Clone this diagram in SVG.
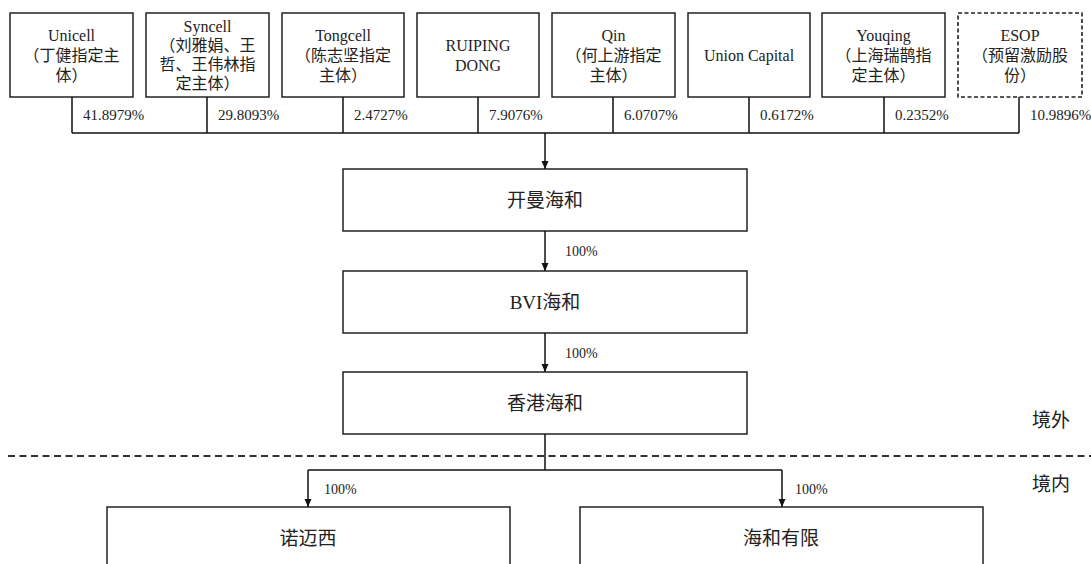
<svg xmlns="http://www.w3.org/2000/svg" width="1091" height="564" viewBox="0 0 1091 564">
<style>
.box{fill:#fff;stroke:#222;stroke-width:1.5}
.dbox{fill:#fff;stroke:#222;stroke-width:1.6;stroke-dasharray:4 2.5}
.ln{fill:none;stroke:#111;stroke-width:1.5}
.t{font-family:"Liberation Serif","Noto Sans CJK SC",serif;fill:#222;text-anchor:middle;dominant-baseline:central}
.s{font-size:16px}
.m{font-size:19px}
.p{font-family:"Liberation Serif","Noto Sans CJK SC",serif;fill:#222;font-size:15px}
.q{font-family:"Liberation Serif","Noto Sans CJK SC",serif;fill:#222;font-size:14px}
</style>
<defs>
<marker id="ah" viewBox="0 0 8 8" refX="8" refY="4" markerWidth="8" markerHeight="8" markerUnits="userSpaceOnUse" orient="auto">
<path d="M0,0.5 L8,4 L0,7.5 Z" fill="#111"/>
</marker>
</defs>
<rect x="0" y="0" width="1091" height="564" fill="#fff"/>

<g id="unicell"><rect class="box" x="10" y="13" width="123" height="84"/>
<text class="t s" x="71.5" y="35">Unicell</text><text class="t s" x="71.5" y="55">（丁健指定主</text><text class="t s" x="71.5" y="75">体）</text></g>
<g id="syncell"><rect class="box" x="146" y="13" width="123" height="84"/>
<text class="t s" x="207.5" y="26">Syncell</text><text class="t s" x="207.5" y="45">（刘雅娟、王</text><text class="t s" x="207.5" y="64">哲、王伟林指</text><text class="t s" x="207.5" y="83">定主体）</text></g>
<g id="tongcell"><rect class="box" x="282" y="13" width="122" height="84"/>
<text class="t s" x="343" y="35">Tongcell</text><text class="t s" x="343" y="55">（陈志坚指定</text><text class="t s" x="343" y="75">主体）</text></g>
<g id="ruiping"><rect class="box" x="417" y="13" width="122" height="84"/>
<text class="t s" x="478" y="45">RUIPING</text><text class="t s" x="478" y="65">DONG</text></g>
<g id="qin"><rect class="box" x="552" y="13" width="123" height="84"/>
<text class="t s" x="613.5" y="35">Qin</text><text class="t s" x="613.5" y="55">（何上游指定</text><text class="t s" x="613.5" y="75">主体）</text></g>
<g id="union"><rect class="box" x="688" y="13" width="122" height="84"/>
<text class="t s" x="749" y="55">Union Capital</text></g>
<g id="youqing"><rect class="box" x="822" y="13" width="123" height="84"/>
<text class="t s" x="883.5" y="35">Youqing</text><text class="t s" x="883.5" y="55">（上海瑞鹊指</text><text class="t s" x="883.5" y="75">定主体）</text></g>
<g id="esop"><rect class="dbox" x="958" y="13" width="124" height="84"/>
<text class="t s" x="1020" y="35">ESOP</text><text class="t s" x="1020" y="55">（预留激励股</text><text class="t s" x="1020" y="75">份）</text></g>

<g id="kaiman"><rect class="box" x="343" y="169" width="404" height="62"/><text class="t m" x="545" y="200">开曼海和</text></g>
<g id="bvi"><rect class="box" x="343" y="271" width="404" height="62"/><text class="t m" x="545" y="302">BVI海和</text></g>
<g id="hk"><rect class="box" x="343" y="372" width="404" height="62"/><text class="t m" x="545" y="403">香港海和</text></g>
<g id="nuomaixi"><rect class="box" x="107" y="507" width="403" height="70"/><text class="t m" x="308" y="538">诺迈西</text></g>
<g id="haihe"><rect class="box" x="580" y="507" width="403" height="70"/><text class="t m" x="781" y="538">海和有限</text></g>

<g id="connectors">
<path class="ln" d="M72,97V133M207,97V133M343,97V133M478,97V133M613,97V133M749,97V133M884,97V133M1019,97V133M72,133H1019"/>
<path class="ln" d="M545,133V169" marker-end="url(#ah)"/>
<path class="ln" d="M545,231V271" marker-end="url(#ah)"/>
<path class="ln" d="M545,333V372" marker-end="url(#ah)"/>
<path class="ln" d="M545,434V470M308,470H782"/>
<path class="ln" d="M308,470V507" marker-end="url(#ah)"/>
<path class="ln" d="M782,470V507" marker-end="url(#ah)"/>
<text class="p" x="83" y="120">41.8979%</text>
<text class="p" x="218" y="120">29.8093%</text>
<text class="p" x="354" y="120">2.4727%</text>
<text class="p" x="489" y="120">7.9076%</text>
<text class="p" x="624" y="120">6.0707%</text>
<text class="p" x="760" y="120">0.6172%</text>
<text class="p" x="895" y="120">0.2352%</text>
<text class="p" x="1030" y="120">10.9896%</text>
<text class="q" x="565" y="256">100%</text>
<text class="q" x="565" y="358">100%</text>
<text class="q" x="324" y="494">100%</text>
<text class="q" x="795" y="494">100%</text>
</g>

<g id="boundary">
<path d="M8,456H1091" fill="none" stroke="#333" stroke-width="2" stroke-dasharray="7 4.5"/>
<text class="t m" x="1051" y="420">境外</text>
<text class="t m" x="1051" y="484">境内</text>
</g>
</svg>
